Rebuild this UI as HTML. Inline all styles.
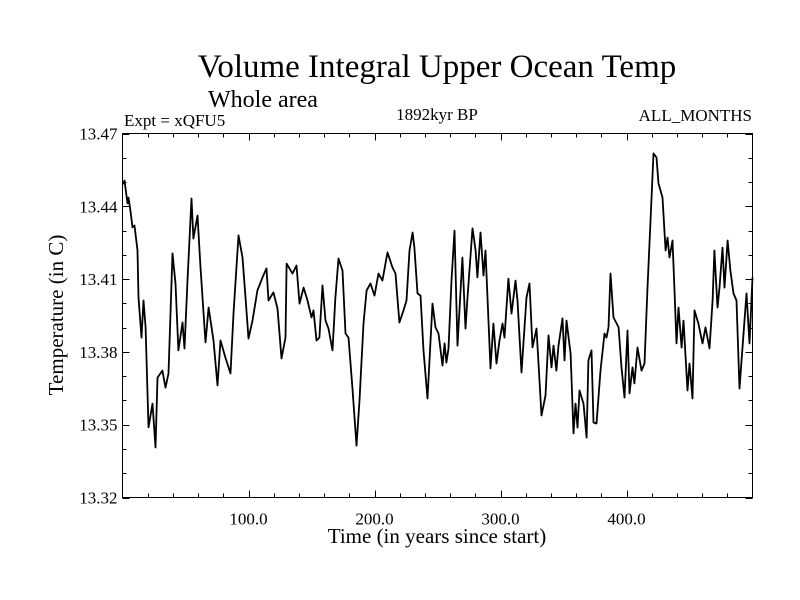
<!DOCTYPE html>
<html><head><meta charset="utf-8"><style>
html,body{margin:0;padding:0;background:#fff;}
svg{display:block;font-family:"Liberation Serif",serif;}
</style></head><body>
<svg id="chart" width="800" height="600" viewBox="0 0 800 600">
<rect x="0" y="0" width="800" height="600" fill="#fff"/>
<text x="437" y="77" font-size="33" text-anchor="middle">Volume Integral Upper Ocean Temp</text>
<text x="208" y="107" font-size="24">Whole area</text>
<text x="124" y="126" font-size="17">Expt = xQFU5</text>
<text x="437" y="120" font-size="17" text-anchor="middle">1892kyr BP</text>
<text x="752" y="121" font-size="17" text-anchor="end">ALL_MONTHS</text>
<g id="axes"></g>
<path id="series" fill="none" stroke="#000" stroke-width="1.8" stroke-linejoin="round"/>
<rect x="122.5" y="133.5" width="630" height="364" fill="none" stroke="#000" stroke-width="1"/>
<text x="437" y="543" font-size="21" text-anchor="middle">Time (in years since start)</text>
<text transform="translate(63,315) rotate(-90)" font-size="21" text-anchor="middle">Temperature (in C)</text>
</svg>
<script>
const years = [0,1.6,4.0,4.8,6.3,7.9,9.5,11.9,12.7,15.1,16.7,18.3,20.6,23.8,26.2,27.8,31.7,34.1,36.5,39.7,42.1,44.4,47.6,49.2,51.6,54.8,56.3,59.5,61.9,65.9,68.3,72.2,75.4,77.8,81.7,85.7,88.1,92.1,95.2,97.6,100.0,103.2,107.1,111.1,114.3,115.9,119.8,123.0,126.2,129.4,130.2,134.9,138.1,140.5,143.7,146.8,150.0,151.6,154.0,156.3,158.7,161.1,163.5,166.7,169.0,171.4,174.6,177.0,179.4,182.5,185.7,188.1,191.3,193.7,196.8,200.0,203.2,206.3,210.3,214.3,216.7,219.8,223.0,225.4,227.8,230.2,231.7,234.1,236.5,238.9,242.1,246.0,248.4,250.8,254.0,255.6,257.1,258.7,261.1,263.5,265.9,269.8,272.2,273.8,277.8,280.2,281.7,284.1,286.5,288.1,292.1,294.4,296.8,299.2,301.6,303.2,306.3,308.7,311.9,313.5,316.7,320.6,323.0,325.4,328.6,332.5,335.7,338.1,340.5,342.1,344.4,346.0,349.2,350.8,352.4,355.6,357.9,359.5,361.1,362.7,365.9,368.3,369.8,372.2,373.8,376.2,379.4,382.5,384.1,385.7,387.3,389.7,393.7,396.0,398.4,400.8,402.4,404.8,406.3,408.7,411.9,414.3,416.7,419.0,421.4,423.8,425.4,428.6,431.0,432.5,434.1,436.5,438.1,439.7,441.3,443.7,445.2,448.4,450.0,452.4,454.0,457.1,460.3,462.7,465.9,468.3,469.8,472.2,473.8,476.2,477.8,480.2,482.5,484.9,487.3,489.7,492.1,495.2,497.6,500.0];
const temps = [13.449,13.4506,13.4412,13.4436,13.4383,13.4313,13.4321,13.4218,13.4024,13.3859,13.4012,13.3901,13.3489,13.3587,13.3406,13.3694,13.3723,13.3653,13.3711,13.4206,13.4082,13.3806,13.3921,13.3814,13.4094,13.4432,13.4267,13.4362,13.4148,13.3839,13.3983,13.3847,13.3662,13.3847,13.3777,13.3711,13.3958,13.4280,13.4189,13.4024,13.3855,13.3929,13.4053,13.4107,13.4144,13.4012,13.4045,13.3979,13.3773,13.3859,13.4164,13.4123,13.4156,13.3999,13.4065,13.4012,13.3942,13.3971,13.3847,13.3859,13.4074,13.3929,13.3896,13.3806,13.4024,13.4185,13.4135,13.3876,13.3859,13.3653,13.3414,13.3600,13.3917,13.4053,13.4082,13.4032,13.4123,13.4094,13.4210,13.4148,13.4123,13.3921,13.3971,13.4012,13.4218,13.4292,13.4230,13.4041,13.4032,13.3806,13.3608,13.3999,13.3901,13.3876,13.3744,13.3835,13.3756,13.3814,13.4094,13.4300,13.3826,13.4189,13.3896,13.4024,13.4309,13.4218,13.4107,13.4292,13.4115,13.4218,13.3732,13.3917,13.3752,13.3847,13.3917,13.3859,13.4102,13.3958,13.4094,13.4012,13.3715,13.4024,13.4082,13.3818,13.3896,13.3538,13.3620,13.3868,13.3736,13.3826,13.3723,13.3826,13.3938,13.3765,13.3929,13.3793,13.3464,13.3587,13.3488,13.3641,13.3587,13.3447,13.3765,13.3806,13.3509,13.3505,13.3723,13.3876,13.3859,13.3901,13.4123,13.3942,13.3901,13.3736,13.3612,13.3888,13.3629,13.3736,13.3670,13.3818,13.3723,13.3752,13.4065,13.4329,13.4618,13.4601,13.4494,13.4436,13.4218,13.4271,13.4189,13.4259,13.4053,13.3835,13.3983,13.3818,13.3929,13.3641,13.3752,13.3608,13.3971,13.3917,13.3835,13.3901,13.3814,13.4012,13.4218,13.3983,13.4065,13.4230,13.4065,13.4259,13.4135,13.4041,13.4012,13.3649,13.3818,13.4041,13.3835,13.4107];
const yTickLabels = ["13.32","13.35","13.38","13.41","13.44","13.47"];
const xTickLabels = ["100.0","200.0","300.0","400.0"];

const X0=122.5, X1=752.5, Y0=497.5, Y1=133.5;
const xMin=0, xMax=500, yMin=13.32, yMax=13.47;
function sx(v){return X0+(v-xMin)/(xMax-xMin)*(X1-X0);}
function sy(v){return Y0-(v-yMin)/(yMax-yMin)*(Y0-Y1);}
const NS="http://www.w3.org/2000/svg";
const axes=document.getElementById('axes');
function line(x1,y1,x2,y2,name){
  const l=document.createElementNS(NS,'line');
  l.setAttribute('x1',x1);l.setAttribute('y1',y1);l.setAttribute('x2',x2);l.setAttribute('y2',y2);
  l.setAttribute('stroke','#000');l.setAttribute('stroke-width','1');
  
  
  axes.appendChild(l);
}
function text(x,y,s,anchor,name){
  const t=document.createElementNS(NS,'text');
  t.setAttribute('x',x);t.setAttribute('y',y);t.setAttribute('font-size','17');t.setAttribute('text-anchor',anchor);
  t.textContent=s;
  
  
  axes.appendChild(t);
}
for(let i=0;i<=15;i++){
  const v=yMin+i*0.01, y=Math.round(sy(v))+0.5, len=(i%3===0)?7:4;
  line(X0,y,X0+len,y,'y-tick');
  line(X1,y,X1-len,y,'y-tick-right');
}
yTickLabels.forEach(s=>{
  const y=sy(parseFloat(s));
  text(X0-5,y+6,s,'end','y-tick-label');
});
for(let v=20;v<500;v+=20){
  const x=Math.round(sx(v))+0.5, len=(v%100===0)?7:4;
  line(x,Y0,x,Y0-len,'x-tick');
  line(x,Y1,x,Y1+len,'x-tick-top');
}
xTickLabels.forEach(s=>{
  text(sx(parseFloat(s)),Y0+27,s,'middle','x-tick-label');
});
let d='';
years.forEach((yr,i)=>{d+=(i?'L':'M')+sx(yr).toFixed(1)+' '+sy(temps[i]).toFixed(1);});
document.getElementById('series').setAttribute('d',d);
</script>
</body></html>
